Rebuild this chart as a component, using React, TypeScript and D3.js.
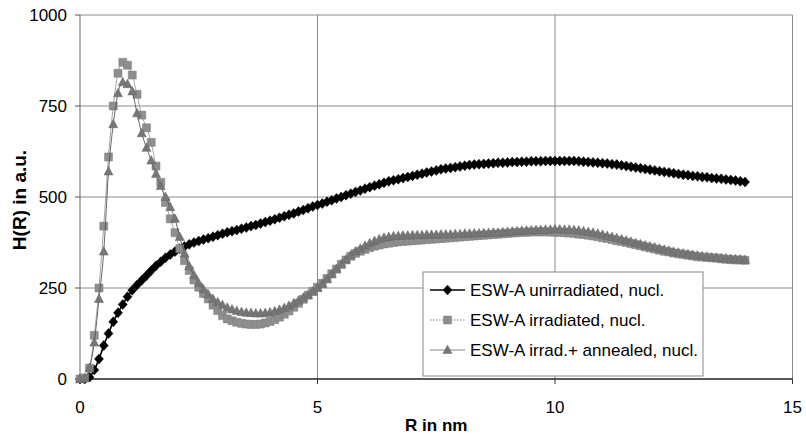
import React from "react";
import * as d3 from "d3";

const W = 806;
const H = 435;

// Grid of radii (0 .. 14 nm, step 0.1)
const radius: number[] = d3.range(0, 141).map((i) => i / 10);

const unirradiated: number[] = [
  0, 0, 5, 25, 55, 92, 125, 157, 182, 205,
  226, 244, 258, 271, 284, 298, 311, 322, 333, 342,
  350, 358, 364, 370, 375, 379, 383, 387, 391, 395,
  399, 403, 406, 409, 413, 416, 420, 423, 427, 431,
  435, 439, 443, 447, 451, 455, 460, 464, 469, 474,
  478, 482, 487, 491, 496, 500, 505, 509, 514, 518,
  523, 527, 531, 535, 539, 543, 546, 549, 552, 555,
  558, 561, 564, 567, 570, 573, 576, 578, 580, 582,
  584, 586, 588, 589, 590, 591, 592, 593, 594, 594,
  595, 596, 596, 597, 597, 598, 598, 598, 599, 599,
  599, 599, 599, 599, 599, 598, 597, 596, 595, 594,
  593, 592, 590, 589, 587, 585, 583, 581, 579, 577,
  575, 573, 571, 569, 567, 565, 563, 561, 560, 558,
  557, 555, 554, 552, 551, 550, 548, 547, 545, 543,
  541,
];

const irradiated: number[] = [
  0, 3, 30, 120, 250, 420, 610, 750, 840, 870,
  862, 835, 782, 725, 690, 650, 585, 540, 485, 440,
  402, 358, 325, 298, 272, 252, 235, 220, 203, 188,
  174, 165, 160, 156, 153, 151, 150, 150, 151, 154,
  158, 163, 170, 178, 187, 197, 208, 219, 230, 241,
  252, 263, 276, 289, 302, 315, 327, 337, 345, 351,
  356, 361, 365, 368, 371, 373, 375, 377, 378, 379,
  380, 381, 382, 383, 384, 385, 386, 387, 388, 389,
  390, 391, 392, 393, 394, 395, 396, 397, 398, 399,
  400, 401, 402, 403, 403, 404, 404, 404, 404, 404,
  403, 403, 402, 401, 400, 398, 397, 395, 393, 391,
  388, 386, 383, 380, 378, 375, 372, 369, 366, 363,
  360, 357, 354, 351, 349, 346, 344, 342, 340, 338,
  336, 335, 334, 333, 332, 330, 329, 328, 327, 327,
  326,
];

const annealed: number[] = [
  0, 3, 30, 100, 220, 350, 570, 700, 785, 815,
  810, 790, 730, 675, 635, 600, 563, 530, 500, 472,
  440, 390, 345, 310, 285, 263, 246, 232, 220, 211,
  203, 196, 191, 187, 184, 182, 181, 180, 180, 181,
  183, 186, 190, 195, 201, 208, 215, 223, 231, 240,
  250, 261, 274, 288, 302, 315, 328, 340, 350, 358,
  366, 373, 379, 384, 388, 390, 392, 393, 394, 394,
  395, 395, 395, 396, 396, 396, 397, 397, 397, 398,
  398, 399, 399, 400, 400, 401, 401, 402, 402, 403,
  404, 405, 406, 407, 408, 408, 409, 409, 410, 410,
  411, 411, 410, 410, 409, 408, 406, 404, 402, 399,
  396, 393, 390, 387, 384, 380, 377, 373, 370, 367,
  364, 361, 358, 355, 352, 349, 347, 345, 343, 341,
  339, 337, 336, 334, 333, 332, 331, 330, 329, 328,
  327,
];

const xTicks: number[] = [0, 5, 10, 15];
const yTicks: number[] = [0, 250, 500, 750, 1000];
const legendLabels: string[] = [
  "ESW-A unirradiated, nucl.",
  "ESW-A irradiated, nucl.",
  "ESW-A irrad.+ annealed, nucl.",
];

const FONT = "Arial, 'Liberation Sans', Helvetica, sans-serif";

function diamond(x: number, y: number) {
  return `M${x},${y - 5}L${x + 4.5},${y}L${x},${y + 5}L${x - 4.5},${y}Z`;
}
function square(x: number, y: number) {
  return `M${x - 4},${y - 4}h8v8h-8Z`;
}
function triangle(x: number, y: number) {
  return `M${x},${y - 5}L${x + 4.5},${y + 3.5}L${x - 4.5},${y + 3.5}Z`;
}

export default function App() {
  const x = d3.scaleLinear().domain([0, 15]).range([80, 792.5]);
  const y = d3.scaleLinear().domain([0, 1000]).range([379, 15]);

  const mk = (vals: number[]) =>
    d3
      .line<number>()
      .x((_, i) => x(radius[i]))
      .y((v) => y(v))
      .curve(d3.curveMonotoneX)(vals) || "";

  const series = [
    { vals: unirradiated, line: "#000", lw: 1.6, fill: "#000", stroke: "#000", shape: diamond },
    { vals: irradiated, line: "#9a9a9a", lw: 0.9, fill: "#8e8e8e", stroke: "#7c7c7c", shape: square },
    { vals: annealed, line: "#555", lw: 0.9, fill: "#767676", stroke: "#666", shape: triangle },
  ];

  const lx = 423, ly = 272, lw = 280, lh = 104;
  const legendRows = [290, 320, 350];

  return (
    <svg
      width={W}
      height={H}
      style={{ position: "absolute", left: 0, top: 0, background: "#fff" }}
      fontFamily={FONT}
    >
      <rect x={0} y={0} width={W} height={H} fill="#fff" />
      {/* grid */}
      {yTicks.filter((t) => t > 0).map((t) => (
        <line key={"gy" + t} x1={x(0)} x2={x(15)} y1={y(t)} y2={y(t)} stroke="#8a8a8a" strokeWidth={1} />
      ))}
      {xTicks.filter((t) => t > 0).map((t) => (
        <line key={"gx" + t} x1={x(t)} x2={x(t)} y1={y(0)} y2={y(1000)} stroke="#8a8a8a" strokeWidth={1} />
      ))}
      {/* axes */}
      <line x1={x(0)} x2={x(0)} y1={y(0)} y2={y(1000)} stroke="#666" strokeWidth={1} />
      <line x1={x(0)} x2={x(15)} y1={y(0)} y2={y(0)} stroke="#222" strokeWidth={1.3} />
      {yTicks.map((t) => (
        <g key={"yt" + t}>
          <line x1={x(0) - 5} x2={x(0)} y1={y(t)} y2={y(t)} stroke="#555" strokeWidth={1} />
          <text x={67} y={y(t)} dy="0.35em" textAnchor="end" fontSize={17} fill="#000">
            {t}
          </text>
        </g>
      ))}
      {xTicks.map((t) => (
        <g key={"xt" + t}>
          <line x1={x(t)} x2={x(t)} y1={y(0)} y2={y(0) + 5} stroke="#333" strokeWidth={1} />
          <text x={x(t)} y={413} textAnchor="middle" fontSize={17} fill="#000">
            {t}
          </text>
        </g>
      ))}
      <text x={(x(0) + x(15)) / 2} y={431} textAnchor="middle" fontSize={17} fontWeight="bold">
        R in nm
      </text>
      <text
        transform={`translate(26,${200}) rotate(-90)`}
        textAnchor="middle"
        fontSize={19}
        fontWeight="bold"
      >
        H(R) in a.u.
      </text>

      {/* series */}
      {series.map((s, si) => (
        <g key={"s" + si}>
          <path d={mk(s.vals)} fill="none" stroke={s.line} strokeWidth={s.lw} />
          {s.vals.map((v, i) => (
            <path key={i} d={s.shape(x(radius[i]), y(v))} fill={s.fill} stroke={s.stroke} strokeWidth={0.5} />
          ))}
        </g>
      ))}

      {/* legend */}
      <rect x={lx} y={ly} width={lw} height={lh} fill="#fff" stroke="#888" strokeWidth={1} />
      {series.map((s, i) => (
        <g key={"lg" + i}>
          <line
            x1={430}
            x2={465}
            y1={legendRows[i]}
            y2={legendRows[i]}
            stroke={i === 0 ? "#000" : "#777"}
            strokeWidth={i === 0 ? 1.6 : 0.9}
            strokeDasharray={i === 1 ? "1.5,1.5" : undefined}
          />
          <path d={s.shape(447.5, legendRows[i])} fill={s.fill} stroke={s.stroke} strokeWidth={0.5} />
          <text x={470} y={legendRows[i]} dy="0.35em" fontSize={17} fill="#000">
            {legendLabels[i]}
          </text>
        </g>
      ))}
    </svg>
  );
}
